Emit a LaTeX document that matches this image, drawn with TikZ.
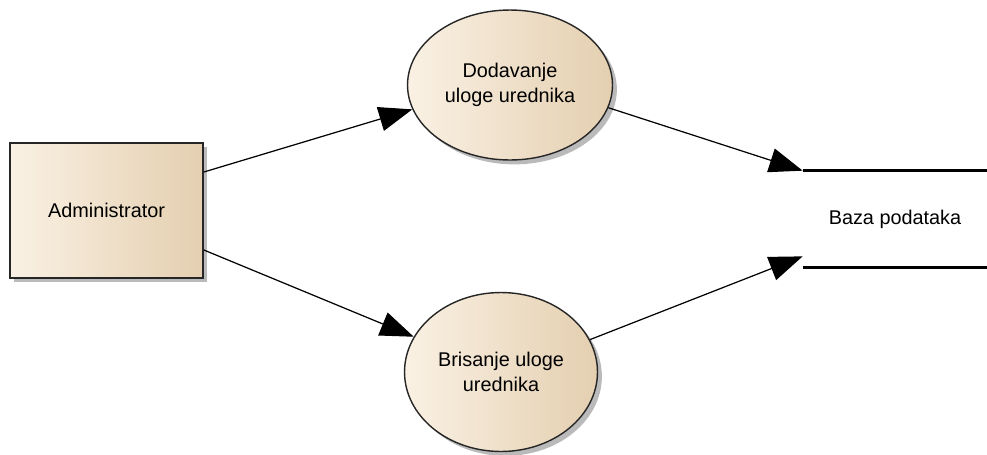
\documentclass[tikz,border=0pt]{standalone}
\usepackage{fontspec}
\setmainfont{Liberation Sans}
\usetikzlibrary{arrows.meta,shapes.geometric,shadows}

\definecolor{boxcream}{HTML}{FAF1E4}
\definecolor{boxtan}{HTML}{E4CFB0}

\begin{document}
\begin{tikzpicture}[
        x=0.02cm, y=-0.02cm,
        >={Triangle[length=19pt,width=14pt]},
        every node/.style={font=\fontsize{11.3}{14}\selectfont, align=center, inner sep=0},
        creme/.style={left color=boxcream, middle color=boxcream!75!boxtan, right color=boxtan, draw=black!85,
            drop shadow={shadow xshift=2.5pt, shadow yshift=-2.5pt, fill=black!45, opacity=.6}},
        entity/.style={creme, rectangle, line width=1pt, minimum width=3.86cm, minimum height=2.7cm},
        process/.style={creme, ellipse, line width=.8pt},
        datastore/.style={minimum width=3.68cm, minimum height=1.92cm},
        flow/.style={->, line width=.7pt, black}
        ]
            \useasboundingbox (0, 0) rectangle (987, 454);

            % Administrator
            \node[entity] (admin) at (106.5, 210.5) {Administrator};

            % Processes
            \node[process, minimum width=4.1cm, minimum height=3cm] (dodavanje) at (510, 85)
                {Dodavanje\\uloge urednika};
            \node[process, minimum width=3.86cm, minimum height=3.18cm] (brisanje) at (501, 372)
                {Brisanje uloge\\urednika};

            % Data store
            \node[datastore] (baza) at (895, 219) {Baza podataka};
            \draw[line width=1.6pt] (baza.north west) -- (baza.north east);
            \draw[line width=1.6pt] (baza.south west) -- (baza.south east);

            % Flows
            \draw[flow] ([yshift=.77cm]admin.east) -- (dodavanje.194);
            \draw[flow] ([yshift=-.79cm]admin.east) -- (brisanje.158);
            \draw[flow] (dodavanje.-13) -- (baza.north west);
            \draw[flow] (brisanje.20) -- ([yshift=.22cm]baza.south west);
        \end{tikzpicture}
\end{document}
